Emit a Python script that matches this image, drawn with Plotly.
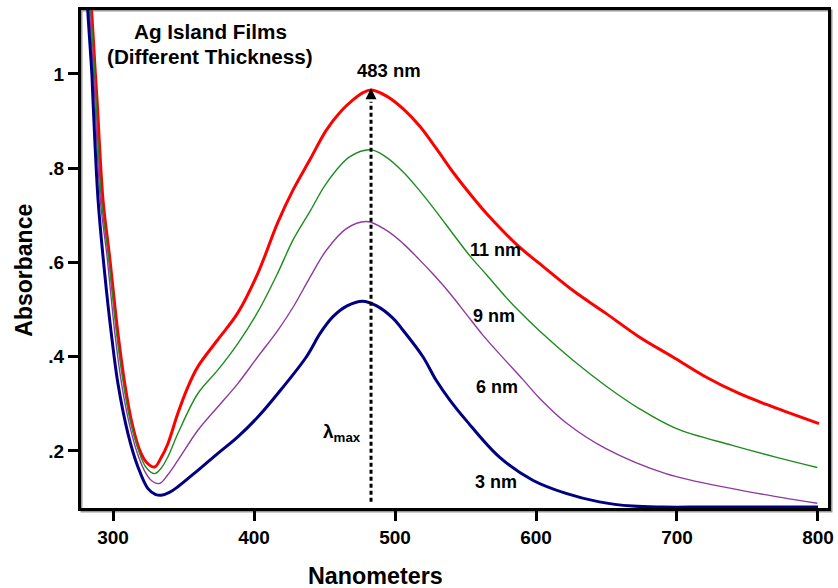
import plotly.graph_objects as go

# ---------------- data ----------------
nm_red = [282, 284.7, 287.5, 288.7, 292.9, 297.6, 303.5, 308.3, 313, 318.9,
          324, 329.5, 334, 339, 346, 353, 360, 374, 388.5, 402.7,
          416.9, 427.7, 440, 451.3, 462, 470.2, 477, 483.2, 494,
          505.8, 517.6, 529.5, 541.3, 553.1, 564.9, 578.8, 588.5, 602.4, 626,
          649.6, 673.2, 696.8, 720.5, 744, 767.6, 800.7]
abs_red = [1.25, 1.14, 1.0, 0.945, 0.733, 0.612, 0.45, 0.344, 0.265, 0.202,
           0.175, 0.166, 0.185, 0.216, 0.28, 0.335, 0.378, 0.435, 0.493, 0.577,
           0.685, 0.754, 0.82, 0.881, 0.922, 0.945, 0.96, 0.966, 0.953,
           0.926, 0.889, 0.841, 0.791, 0.746, 0.704, 0.660, 0.632, 0.598, 0.541,
           0.492, 0.442, 0.400, 0.357, 0.322, 0.294, 0.258]

nm_green = [281.5, 284, 287, 291.8, 296.8, 302.5, 307.3, 312.2, 318, 323.5,
            329.5, 334, 339, 346, 360.2, 374.4, 388.5, 402.7, 416.9, 427.7,
            440, 451.3, 467.8, 483.2, 494, 505.8, 517.6, 529.5, 541.3, 553.1,
            564.9, 578.8, 587.3, 602.4, 626, 649.6, 673.2, 699.2, 739.3, 770,
            799.5]
abs_green = [1.25, 1.14, 1.0, 0.733, 0.612, 0.45, 0.344, 0.265, 0.202, 0.165,
             0.152, 0.163, 0.188, 0.237, 0.322, 0.372, 0.428, 0.495, 0.578, 0.648,
             0.71, 0.768, 0.824, 0.839, 0.823, 0.792, 0.752, 0.707, 0.660, 0.614,
             0.574, 0.526, 0.499, 0.455, 0.393, 0.338, 0.290, 0.248, 0.212, 0.187,
             0.165]

nm_purple = [281, 283.2, 286.2, 291, 295.8, 301.3, 306, 311, 316.5, 322,
             327, 333, 339, 346, 360.2, 374.4, 388.5, 402.7, 416.9, 427.7,
             440, 451.3, 465.5, 480, 494, 505.8, 517.6, 527.1, 538, 550.7,
             562, 574.4, 590.6, 602.5, 621.3, 649.6, 692.1, 739.3, 774.7, 799.5]
abs_purple = [1.25, 1.14, 1.0, 0.733, 0.612, 0.45, 0.344, 0.265, 0.202, 0.160,
              0.138, 0.131, 0.150, 0.180, 0.244, 0.294, 0.343, 0.400, 0.456, 0.505,
              0.570, 0.626, 0.672, 0.687, 0.668, 0.640, 0.605, 0.575, 0.538, 0.490,
              0.447, 0.405, 0.352, 0.312, 0.260, 0.205, 0.152, 0.120, 0.101, 0.089]

nm_blue = [280.5, 282, 285, 285.8, 289.4, 294.1, 298.8, 303.5, 310.6, 317.7,
           324.8, 330, 334.2, 340, 346, 360.2, 374.4, 388.5, 402.7, 416.9,
           437.2, 447, 456, 466, 477, 487, 498.5, 504.7, 519.8, 529.2, 538.9,
           550.5, 574.1, 597.7, 621.3, 644.9, 668.5, 690, 720, 760, 800]
abs_blue = [1.25, 1.14, 1.0, 0.945, 0.733, 0.577, 0.449, 0.343, 0.237, 0.166,
            0.120, 0.108, 0.106, 0.112, 0.124, 0.159, 0.195, 0.230, 0.272, 0.322,
            0.400, 0.450, 0.485, 0.508, 0.518, 0.508, 0.482, 0.460, 0.400, 0.350, 0.308,
            0.265, 0.187, 0.138, 0.110, 0.092, 0.083, 0.081, 0.081, 0.081, 0.081]

series_labels = ["11 nm", "9 nm", "6 nm", "3 nm"]
label_nm = [571.2, 570.5, 572.6, 571.5]
label_abs = [0.6265, 0.487, 0.336, 0.135]

x_ticks = [300, 400, 500, 600, 700, 800]
y_ticks = [0.2, 0.4, 0.6, 0.8, 1.0]
y_tick_text = [".2", ".4", ".6", ".8", "1"]

lambda_max_nm = 483
peak_label = "483 nm"
dotted_bottom = 0.0924

# ---------------- figure ----------------
FONT = "Liberation Sans, Arial, sans-serif"
W, H = 838, 588
ML, MR, MT, MB = 81, 10, 10, 80
PW, PH = W - ML - MR, H - MT - MB


def px_x(px):
    return (px - ML) / PW


def px_y(py):
    return 1 - (py - MT) / PH


fig = go.Figure()

line_specs = [
    (nm_red, abs_red, "#FF0000", 3.0),
    (nm_green, abs_green, "#1E8C1E", 1.4),
    (nm_purple, abs_purple, "#8E3A9E", 1.4),
    (nm_blue, abs_blue, "#000080", 3.0),
]
for xs, ys, col, w in line_specs:
    fig.add_trace(go.Scatter(x=xs, y=ys, mode="lines",
                             line=dict(color=col, width=w, shape="spline", smoothing=1.0),
                             showlegend=False, hoverinfo="skip"))

# plasmon peak of the thickest film (ignore the UV edge below 400 nm)
peak_abs = max(a for n, a in zip(nm_red, abs_red) if n > 400)

# dotted lambda-max line
fig.add_trace(go.Scatter(x=[lambda_max_nm, lambda_max_nm], y=[dotted_bottom, peak_abs - 0.025],
                         mode="lines", line=dict(color="black", width=3, dash="4px,3px"),
                         showlegend=False, hoverinfo="skip"))
# arrow head at the red peak
fig.add_trace(go.Scatter(x=[lambda_max_nm], y=[peak_abs + 0.004], mode="markers",
                         marker=dict(symbol="arrow-up", size=11, color="black",
                                     line=dict(width=0)),
                         showlegend=False, hoverinfo="skip"))

# drop shadow of the frame
fig.add_shape(type="rect", xref="paper", yref="paper",
              x0=px_x(81.5), x1=px_x(831.5), y0=px_y(511.5), y1=px_y(10.5),
              line=dict(color="#9a9a9a", width=2), layer="below")

annos = []
bold = dict(family=FONT, color="black", weight="bold")
for t, xv, yv in zip(series_labels, label_nm, label_abs):
    annos.append(dict(x=xv, y=yv, xref="x", yref="y", text=t, showarrow=False,
                      xanchor="center", yanchor="middle",
                      font=dict(size=18, **bold)))
annos.append(dict(x=495.5, y=1.007, xref="x", yref="y", text=peak_label, showarrow=False,
                  xanchor="center", yanchor="middle",
                  font=dict(size=18.5, **bold)))
annos.append(dict(x=477.5, y=0.238, xref="x", yref="y", text="λ<sub>max</sub>",
                  showarrow=False, xanchor="right", yanchor="middle",
                  font=dict(size=19, **bold)))
annos.append(dict(x=px_x(210), y=px_y(31.7), xref="paper", yref="paper",
                  text="Ag Island Films", showarrow=False,
                  xanchor="center", yanchor="middle", font=dict(size=20.7, **bold)))
annos.append(dict(x=px_x(210), y=px_y(56.7), xref="paper", yref="paper",
                  text="(Different Thickness)", showarrow=False,
                  xanchor="center", yanchor="middle", font=dict(size=20.7, **bold)))
annos.append(dict(x=px_x(375.8), y=px_y(575.5), xref="paper", yref="paper",
                  text="Nanometers", showarrow=False,
                  xanchor="center", yanchor="middle", font=dict(size=23.3, **bold)))
annos.append(dict(x=px_x(24), y=px_y(269.7), xref="paper", yref="paper",
                  text="Absorbance", textangle=-90, showarrow=False,
                  xanchor="center", yanchor="middle",
                  font=dict(size=23, **bold)))

fig.update_layout(
    template="none",
    width=W, height=H,
    margin=dict(l=ML, r=MR, t=MT, b=MB, pad=0, autoexpand=False),
    paper_bgcolor="white", plot_bgcolor="rgba(0,0,0,0)",
    annotations=annos,
    showlegend=False,
    hovermode=False,
)
fig.update_xaxes(range=[277.3, 807.1], tickvals=x_ticks, showgrid=False, zeroline=False,
                 automargin=False, showspikes=False,
                 showline=True, linecolor="black", linewidth=3, mirror=True,
                 ticks="outside", ticklen=10, tickwidth=2.5, tickcolor="black",
                 tickfont=dict(size=19, **bold))
fig.update_yaxes(range=[0.079, 1.1358], tickvals=y_ticks, ticktext=y_tick_text,
                 showgrid=False, zeroline=False, automargin=False, showspikes=False,
                 showline=True, linecolor="black", linewidth=3, mirror=True,
                 ticks="outside", ticklen=10, tickwidth=2.5, tickcolor="black",
                 tickfont=dict(size=19, **bold))

fig.write_html("out.html", config={"displayModeBar": False},
               post_script="document.body.style.margin='0';document.body.style.overflow='hidden';")
